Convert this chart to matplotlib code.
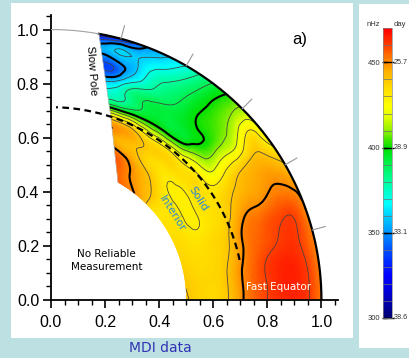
import numpy as np
import matplotlib
matplotlib.use("Agg")
import matplotlib.pyplot as plt
import matplotlib.tri as mtri
from matplotlib.colors import LinearSegmentedColormap, Normalize
from matplotlib.cm import ScalarMappable
from matplotlib.path import Path
from matplotlib.patches import PathPatch, Rectangle
from matplotlib.ticker import MultipleLocator

# nodes of the rotation table: fractional radius and latitude (deg)
radii = [0.50, 0.55, 0.60, 0.65, 0.70, 0.75, 0.80, 0.85, 0.90, 0.95, 1.00]
latitudes = [0, 5, 10, 15, 20, 25, 30, 35, 40, 45, 50, 55, 60, 65, 70, 75, 80, 85]

# rotation rate (nHz), one radial profile r=0.50 -> 1.00 per latitude
rate = [
    [441, 437, 436, 439, 448, 455, 460, 463, 464, 461, 452],    # 0
    [440, 437, 436, 439, 448, 455, 460, 464, 465, 461, 452],    # 5
    [439, 436, 436, 438.5, 447, 454, 459.5, 463, 464, 460, 451],  # 10
    [437, 435, 435, 437, 443, 452, 456, 459, 461.5, 459.5, 451],  # 15
    [436, 434, 434, 436, 440, 450, 454, 457, 459, 459, 450],    # 20
    [435, 433, 430.5, 433, 436, 443, 449, 449.5, 452, 452, 448],  # 25
    [434, 432, 429, 432, 434, 438, 442, 445, 447, 447, 441],    # 30
    [433, 432, 429, 432, 433, 430, 434, 438, 440.5, 440, 429],  # 35
    [432, 432, 429, 432, 434, 419, 417, 418, 421, 432, 421],    # 40
    [439, 437, 430.5, 433, 431, 414, 402, 404, 408, 412, 411.5],  # 45
    [448, 442, 436, 434, 432, 403, 396, 401, 402, 402, 399],    # 50
    [452, 447, 440, 436, 432, 400.5, 393, 394, 393, 390, 385],  # 55
    [456, 452, 446, 440, 433, 401, 393, 388, 384, 378, 370],    # 60
    [459, 457, 451, 443, 441, 400, 390, 382, 376, 368, 358],    # 65
    [460, 459, 455, 447, 443, 396, 380, 372, 358, 360, 347],    # 70
    [460, 460, 458, 451, 445, 394, 372, 352, 342, 361, 330],    # 75
    [460, 460, 458, 452, 446, 392, 370, 350, 340, 352, 320],    # 80
    [460, 460, 458, 452, 446, 392, 370, 350, 340, 350, 318],    # 85
]

# edge of the reliable region at high latitude (radius, latitude)
edge_r = [1.0, 0.712, 0.5]
edge_lat = [79.8, 71.9, 60.3]

tacho_r = 0.713
lat_ticks = [15, 30, 45, 60, 75]

levels = np.arange(310, 471, 10)
thick_levels = [350, 400, 450]
cbar_ticks = [300, 350, 400, 450]
cbar_days = ['38.6', '33.1', '28.9', '25.7']

cmap_vals = [300, 315, 325, 340, 350, 360, 367, 380, 392, 400, 410, 418, 425, 435, 445, 452, 460, 470]
cmap_cols = ['#000070', '#0000d8', '#0000ff', '#0050ff', '#0095ff', '#00d0ff', '#00ffff',
             '#00ffa0', '#00f040', '#00e000', '#90f000', '#e0ff00', '#ffff00', '#ffdc00',
             '#ffb000', '#ff8000', '#ff4000', '#ff0000']

vmin, vmax = 300, 470
cmap = LinearSegmentedColormap.from_list(
    'rot', [((v - vmin) / (vmax - vmin), c) for v, c in zip(cmap_vals, cmap_cols)])
norm = Normalize(vmin, vmax)

fig = plt.figure(figsize=(4.09, 3.58), dpi=100)
fig.patch.set_facecolor('#bde0e3')
fig.patches.append(Rectangle((11 / 409, 20 / 358), 342 / 409, 335 / 358,
                             transform=fig.transFigure, fc='white', ec='none', zorder=-5))
fig.patches.append(Rectangle((359 / 409, 10 / 358), 60 / 409, 344 / 358,
                             transform=fig.transFigure, fc='white', ec='none', zorder=-5))

ax = fig.add_axes([51 / 409, 58 / 358, 287.3 / 409, 285.3 / 358])
ax.set_facecolor('white')

# grid -> triangles
nr, nl = len(radii), len(latitudes)
R, L = np.meshgrid(radii, np.radians(latitudes))
X = (R * np.cos(L)).ravel()
Y = (R * np.sin(L)).ravel()
Z = np.array(rate, dtype=float).ravel()
tris = []
for i in range(nl - 1):
    for j in range(nr - 1):
        k = i * nr + j
        tris.append([k, k + 1, k + nr + 1])
        tris.append([k, k + nr + 1, k + nr])
tri = mtri.Triangulation(X, Y, np.array(tris))
tri_f, z_f = mtri.UniformTriRefiner(tri).refine_field(Z, subdiv=3)

# clip to the measured region
t_out = np.radians(np.linspace(0, edge_lat[0], 200))
t_in = np.radians(np.linspace(edge_lat[-1], 0, 100))
er, el = np.array(edge_r), np.radians(edge_lat)
verts = np.vstack([np.c_[np.cos(t_out), np.sin(t_out)],
                   np.c_[er * np.cos(el), er * np.sin(el)][1:],
                   np.c_[0.5 * np.cos(t_in), 0.5 * np.sin(t_in)]])
verts = np.vstack([verts, verts[:1]])
clip = PathPatch(Path(verts), transform=ax.transData, fc='none', ec='none')
ax.add_patch(clip)

pc = ax.tripcolor(tri_f, z_f, shading='gouraud', cmap=cmap, norm=norm, zorder=1)
pc.set_clip_path(clip)
thin = [l for l in levels if l not in thick_levels]
cs1 = ax.tricontour(tri_f, z_f, levels=thin, colors='#404040', linewidths=0.55, zorder=2)
cs2 = ax.tricontour(tri_f, z_f, levels=thick_levels, colors='black', linewidths=1.5, zorder=2)
cs1.set_clip_path(clip)
cs2.set_clip_path(clip)

# outer surface, extension to the pole, tachocline
ax.plot(np.cos(t_out), np.sin(t_out), color='black', lw=1.6, zorder=3)
t_pole = np.radians(np.linspace(edge_lat[0], 90, 30))
ax.plot(np.cos(t_pole), np.sin(t_pole), color='#a0a0a0', lw=0.8, zorder=3)
ax.plot(er * np.cos(el), er * np.sin(el), color='#c0c0c0', lw=0.5, zorder=3)
t_tc = np.radians(np.linspace(12, 88.5, 200))
ax.plot(tacho_r * np.cos(t_tc), tacho_r * np.sin(t_tc), color='black', lw=1.6,
        dashes=(3, 2), zorder=3)
for lt in lat_ticks:
    a = np.radians(lt)
    ax.plot([np.cos(a), 1.05 * np.cos(a)], [np.sin(a), 1.05 * np.sin(a)],
            color='#999999', lw=0.8, zorder=3, clip_on=False)

# labels
ax.text(0.92, 0.965, 'a)', fontsize=12, family='Liberation Sans', ha='center', va='center')
ax.text(0.149, 0.847, 'Slow Pole', fontsize=8, family='Liberation Sans', rotation=-86,
        ha='center', va='center')
ax.text(0.206, 0.146, 'No Reliable\nMeasurement', fontsize=7.5, ha='center', va='center',
        linespacing=1.4)
ax.text(0.545, 0.372, 'Solid', fontsize=8, color='#2a88d8', rotation=-58,
        ha='center', va='center', zorder=4)
ax.text(0.448, 0.318, 'Interior', fontsize=8, color='#2a88d8', rotation=-58,
        ha='center', va='center', zorder=4)
ax.text(0.841, 0.048, 'Fast Equator', fontsize=7.5, color='white', ha='center',
        va='center', zorder=4)
fig.text(160 / 409, 10 / 358, 'MDI data', fontsize=10, color='#3232b4', ha='center',
         va='center')

ax.set_xlim(0, 1.06)
ax.set_ylim(0, 1.055)
ax.set_aspect('equal', anchor='SW')
for s in ['top', 'right']:
    ax.spines[s].set_visible(False)
for s in ['left', 'bottom']:
    ax.spines[s].set_linewidth(1.3)
ax.xaxis.set_major_locator(MultipleLocator(0.2))
ax.yaxis.set_major_locator(MultipleLocator(0.2))
ax.xaxis.set_minor_locator(MultipleLocator(0.05))
ax.yaxis.set_minor_locator(MultipleLocator(0.05))
ax.tick_params(which='major', length=6, width=1.2, labelsize=11.5)
ax.tick_params(which='minor', length=3.5, width=1.0)
ax.tick_params(axis='x', pad=5)
ax.tick_params(axis='y', pad=2.5)
ax.xaxis.set_major_formatter(lambda v, p: f'{v:.1f}')
ax.yaxis.set_major_formatter(lambda v, p: f'{v:.1f}')
for lab in ax.get_xticklabels() + ax.get_yticklabels():
    lab.set_family('Liberation Sans')

# colour bar
cax = fig.add_axes([383.3 / 409, 40 / 358, 9 / 409, 289.7 / 358])
cb = fig.colorbar(ScalarMappable(norm=norm, cmap=cmap), cax=cax)
cb.outline.set_linewidth(0.5)
cb.outline.set_edgecolor('#888888')
cax.hlines(np.arange(310, 470, 10), 0, 1, colors='#707070', lw=0.5)
cb.set_ticks(cbar_ticks)
cax.yaxis.set_ticks_position('left')
cax.tick_params(length=3, width=1, direction='in', labelsize=5.5, pad=2,
                labelcolor='#333333')
cax.hlines(cbar_ticks, -0.15, 1.15, colors='black', lw=1, clip_on=False)
for lab in cax.get_yticklabels():
    lab.set_family('Liberation Sans')
for v, d in zip(cbar_ticks, cbar_days):
    cax.text(1.2, v, d, fontsize=5.2, family='Liberation Sans', color='#333333',
             ha='left', va='center', transform=cax.get_yaxis_transform())
fig.text(373 / 409, 333 / 358, 'nHz', fontsize=5.5, family='Liberation Sans',
         color='#333333', ha='center', va='center')
fig.text(394 / 409, 333 / 358, 'day', fontsize=5.5, family='Liberation Sans',
         color='#333333', ha='left', va='center')

fig.savefig('out.png', dpi=100)
